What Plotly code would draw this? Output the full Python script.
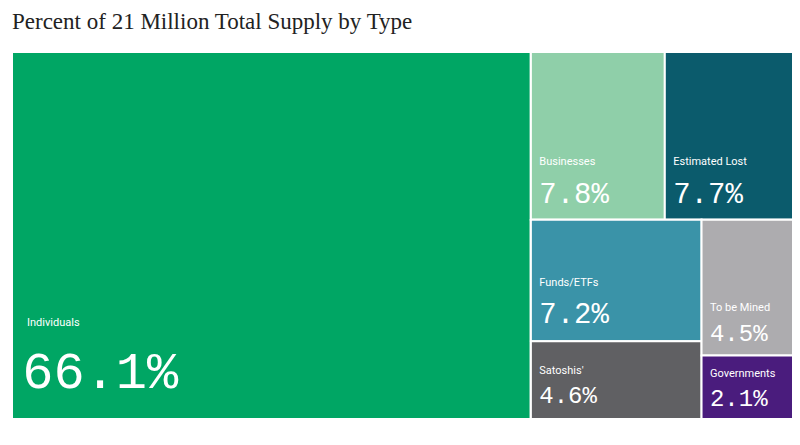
import plotly.graph_objects as go

# Share of the 21M supply, in percent
labels = ["Individuals", "Businesses", "Estimated Lost", "Funds/ETFs",
          "Satoshis'", "To be Mined", "Governments"]
shares = [66.1, 7.8, 7.7, 7.2, 4.6, 4.5, 2.1]
groups = ["all", "top", "top", "left", "left", "right", "right"]

# invisible grouping nodes so slice-dice gives the same arrangement
group_ids = ["all", "rest", "top", "bottom", "left", "right"]
group_parents = ["", "all", "rest", "rest", "bottom", "bottom"]

colors = ["#00a664", "#8fcfa9", "#0b5b6c", "#3a93a8",
          "#606063", "#adacaf", "#4a1c7d"]
value_sizes = [52, 29, 29, 29, 24, 24, 24]
line_sizes = [48, 29, 29, 29, 22, 23, 22]
spacer_sizes = [130, 66, 66, 68, 60, 54, 46]  # pushes text up off the bottom edge

ids = group_ids[:1] + ["ind"] + group_ids[1:] + ["bus", "lost", "fund", "sat", "mine", "gov"]
parents = group_parents[:1] + [groups[0]] + group_parents[1:] + groups[1:]
names = [""] + [labels[0]] + [""] * 5 + labels[1:]
values = [0] + [shares[0]] + [0] * 5 + shares[1:]
node_colors = ["white"] + [colors[0]] + ["white"] * 5 + colors[1:]


def gap(px):
    return f"<span style='font-size:{px}px'>\u00a0</span>"


texts, base_sizes = [], []
for n, v in zip(names, values):
    if n:
        i = labels.index(n)
        lpad = gap(10) + gap(10) if i == 0 else gap(9)
        vpad = gap(12) if i == 0 else gap(9)
        spacer = (f"<span style='font-size:{spacer_sizes[i]}px;"
                  f"font-family:Liberation Serif'>\u00a0</span>")
        texts.append(f"{lpad}<span style='font-size:11px;font-family:Roboto'>{n}</span><br>"
                     f"{vpad}<span style='font-size:{value_sizes[i]}px'>{v:.1f}%</span>{spacer}")
        base_sizes.append(line_sizes[i])
    else:
        texts.append("")
        base_sizes.append(12)

fig = go.Figure(go.Treemap(
    ids=ids, labels=names, parents=parents, values=values,
    branchvalues="remainder", sort=False,
    text=texts, texttemplate="%{text}", textposition="bottom left",
    textfont=dict(family="Liberation Mono", color="white", size=base_sizes),
    marker=dict(colors=node_colors, line=dict(color="white", width=2),
                pad=dict(t=0, l=0, r=0, b=0)),
    tiling=dict(packing="slice-dice", pad=0),
    pathbar=dict(visible=False),
    hoverinfo="skip",
))

fig.update_layout(
    width=800, height=445,
    margin=dict(l=4, r=11, t=44, b=34),
    paper_bgcolor="white",
    title=dict(text="Percent of 21 Million Total Supply by Type",
               x=0.005, xanchor="left", y=0.97, yanchor="middle",
               font=dict(family="Liberation Serif", size=23, color="#222")),
)

fig.write_html("out.html")
